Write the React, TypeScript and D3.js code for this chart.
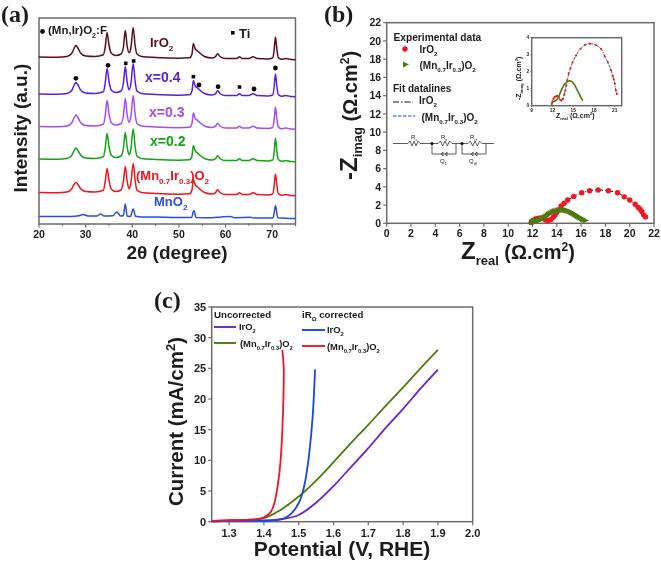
import React from "react";
import * as d3 from "d3";

const SANS = "'Liberation Sans', Arial, sans-serif";
const SERIF = "'Liberation Serif', serif";
const FRAME = "#6b6b6b";
const INK = "#1c1c1c";

// ---------- panel (a) XRD ----------
const xrdAngle = [20,24,26,27,27.5,27.9,28.4,29,30,32,33.8,34.2,34.6,35,35.5,36.5,37.6,38.1,38.5,38.9,39.3,39.7,40.2,40.6,41,42,45,50,52.3,52.8,53.1,53.5,54,54.6,55.5,57,57.8,58.3,58.8,60,62.4,63,63.6,65,65.9,66.8,69,70.1,70.4,70.7,71,71.3,72,72.8,74,75];
const xrdIrO2 = [167,166.8,167.6,170.5,175.5,178.5,175.5,170.5,168,167.5,169.2,177,191.5,179,170.8,168.5,170,177,193.5,178,171.2,176,196.5,179,170,167.5,166.5,165.8,166.2,170,180.5,175,173,170.5,167.5,166,167.2,170.3,167.5,165.4,165.6,167.2,165.4,165.4,167.3,165.4,165,166,173,187,175,166.5,164.8,165.4,164.5,164.3];
const xrdX04 = [130,129.8,130.6,133.5,138.5,141.5,138.5,133.5,131,130.5,132.2,141,155.5,143,133.8,131.5,133,141,157.5,142,134.2,140,160.5,143,133,130.5,129.5,128.8,129.2,133,143.5,138,136,133.5,130.5,129,130.2,133.3,130.5,128.4,128.6,130.2,128.4,128.4,130.3,128.4,128,129,136,150,138,129.5,127.8,128.4,127.5,127.3];
const xrdX03 = [97.5,97.3,98.1,101,106,109,106,101,98.5,98,99.7,108.5,123.5,110.5,101.3,99,100.5,108.5,125.5,109.5,101.7,107.5,128.5,110.5,100.5,98,97,96.3,96.7,100.5,111,105.5,103.5,101,98,96.5,97.7,100.8,98,95.9,96.1,97.7,95.9,95.9,97.8,95.9,95.5,96.5,103.5,117,105.5,97,95.3,95.9,95,94.8];
const xrdX02 = [65,64.8,65.6,68.5,73,76,73,68.5,66,65.5,67.2,76,90.5,78,68.8,66.5,68,76,91.5,77,69.2,75,95,78,68,65.5,64.5,63.8,64.2,68,78.5,73,71,68.5,65.5,64,65.2,68.3,65.5,63.4,63.6,65.2,63.4,63.4,65.3,63.4,63,64,71,86,73,64.5,62.8,63.4,62.5,62.3];
const xrdMix = [31.5,31.3,32.1,35,39.5,41.5,39,35,32.5,32,33.7,42.5,55.5,44,34.8,32.5,34,43,57.5,43,35.2,41,60.5,44,34,31.5,30.5,29.8,30.2,34,44.5,39,37,34.5,31.5,30,31.2,34.3,31.5,29.4,29.6,31.2,29.4,29.4,31.3,29.4,29,30,37,50,39,30.5,28.8,29.4,28.5,28.3];
const mnAngle = [20,27,28.5,29.5,30.5,32.4,33.2,34,35.8,36.7,37.5,38.1,38.5,38.9,39.6,40.2,40.7,42,45,50,52.7,53.2,53.7,57,59,61,62,65.3,66,70.2,70.7,71.2,75];
const mnO2 = [7.5,7.4,8.2,9.5,8,8,10,8,8.2,12,8,8.5,20,8,7.5,15,7.8,7,7,6.4,6.4,13.5,6.4,6.2,7,7.6,6.2,6.8,6,6,18.5,6.2,5.4];
const xrdTicks = [20,30,40,50,60,70];
const xrdMinor = [25,35,45,55,65,75];

const circleMarks = [[27.9,145.7],[34.8,158.7],[54.3,139],[58.4,137.3],[66.1,135],[70.7,156]];
const squareMarks = [[38.6,160.7],[40.3,163],[53.1,147.3],[63,137]];

// ---------- panel (b) EIS ----------
const irRe = [11.9,12,12.15,12.3,12.5,12.7,12.9,13.1,13.3,13.5,13.7,13.85,14,14.15,14.35,14.6,14.9,15.4,16.05,16.7,17.4,18.25,19,19.55,20,20.45,20.7,20.85,21,21.15,21.3];
const irIm = [0.1,0.25,0.4,0.5,0.55,0.58,0.5,0.35,0.3,0.4,0.65,0.9,1.2,1.5,1.9,2.2,2.55,2.95,3.35,3.57,3.65,3.57,3.35,2.9,2.55,2.1,1.75,1.55,1.3,0.9,0.7];
const mixRe = [11.95,12.05,12.15,12.25,12.35,12.45,12.55,12.65,12.75,12.85,12.95,13.05,13.15,13.25,13.35,13.45,13.55,13.65,13.75,13.85,13.95,14.05,14.15,14.25,14.35,14.45,14.55,14.65,14.75,14.85,14.95,15.05,15.15,15.25,15.35,15.45,15.55,15.65,15.75,15.85,15.95,16.05,16.15,16.25,16.4];
const mixIm = [0.15,0.2,0.24,0.26,0.28,0.3,0.32,0.36,0.42,0.5,0.58,0.68,0.78,0.88,0.98,1.06,1.13,1.2,1.26,1.31,1.35,1.39,1.42,1.44,1.46,1.47,1.47,1.45,1.43,1.4,1.36,1.31,1.25,1.18,1.1,1.02,0.94,0.86,0.78,0.7,0.62,0.54,0.46,0.38,0.3];
const eisTicks = [0,2,4,6,8,10,12,14,16,18,20,22];
const insetXTicks = [9,12,15,18,21];
const insetYTicks = [0,1,2,3,4];

// ---------- panel (c) polarisation ----------
const irV = [1.25,1.3,1.35,1.4,1.45,1.5,1.55,1.6,1.65,1.7,1.75,1.8,1.85,1.9];
const irJ = [0.05,0.15,0.15,0.2,0.4,1.1,3.1,5.8,8.9,12,15.3,18.4,21.7,24.8];
const mixV = [1.25,1.3,1.35,1.4,1.45,1.5,1.55,1.6,1.65,1.7,1.75,1.8,1.85,1.9];
const mixJ = [0.1,0.2,0.25,0.6,2,4.1,6.7,9.7,12.8,15.8,18.9,21.9,25,28];
const irCorrV = [1.25,1.3,1.35,1.4,1.44,1.46,1.48,1.5,1.51,1.52,1.53,1.54,1.547];
const irCorrJ = [0.05,0.12,0.15,0.15,0.3,0.6,1.4,3,4.5,7,11,17,24.8];
const mixCorrV = [1.25,1.3,1.35,1.38,1.4,1.42,1.43,1.44,1.448,1.453,1.456,1.457,1.453];
const mixCorrJ = [0.1,0.25,0.3,0.4,0.7,1.6,3,6,10,15,20,25,28];
const polXTicks = [1.3,1.4,1.5,1.6,1.7,1.8,1.9,2.0];
const polYTicks = [0,5,10,15,20,25,30,35];

const zip = (a: number[], b: number[]) => a.map((v, i) => [v, b[i]] as [number, number]);

function Sub({ children, size }: { children: string; size: number }) {
  return <tspan baselineShift={-size * 0.32} fontSize={size * 0.62}>{children}</tspan>;
}

function Sup({ children, size }: { children: string; size: number }) {
  return <tspan baselineShift={size * 0.36} fontSize={size * 0.62}>{children}</tspan>;
}

function T(p: any) {
  const { x, y, size, fill = INK, weight = "bold", family = SANS, anchor = "start", rotate, children } = p;
  return <text x={x} y={y} fontSize={size} fill={fill} fontWeight={weight} fontFamily={family} textAnchor={anchor}
    transform={rotate != null ? `rotate(${rotate} ${x} ${y})` : undefined}>{children}</text>;
}

function Frame({ x, y }: { x: any; y: any }) {
  const [x0, x1] = x.range(), [y0, y1] = y.range();
  return <rect x={x0} y={y1} width={x1 - x0} height={y0 - y1} fill="none" stroke={FRAME} strokeWidth={1.5} />;
}

function BottomAxis({ x, y, ticks, minor = [], size, fmt = String, len = 3.5, dy = 14 }: any) {
  const b = y.range()[0];
  return <g>
    {ticks.map((t: number) => <g key={t}>
      <line x1={x(t)} x2={x(t)} y1={b} y2={b + len} stroke={FRAME} strokeWidth={1.2} />
      <T x={x(t)} y={b + dy} size={size} anchor="middle">{fmt(t)}</T>
    </g>)}
    {minor.map((t: number) => <line key={t} x1={x(t)} x2={x(t)} y1={b} y2={b + len * 0.6} stroke={FRAME} strokeWidth={1} />)}
  </g>;
}

function LeftAxis({ x, y, ticks, size, len = 3.5, gap = 5.5 }: any) {
  const l = x.range()[0];
  return <g>
    {ticks.map((t: number) => <g key={t}>
      <line x1={l - len} x2={l} y1={y(t)} y2={y(t)} stroke={FRAME} strokeWidth={1.2} />
      <T x={l - gap} y={y(t) + size * 0.36} size={size} anchor="end">{String(t)}</T>
    </g>)}
  </g>;
}

function Resistor({ x, y, w }: { x: number; y: number; w: number }) {
  const pts = d3.range(0, 7).map(i => [x + (w * i) / 6, i === 0 || i === 6 ? y : y + (i % 2 ? -2.4 : 2.4)] as [number, number]);
  return <path d={d3.line()(pts) || ""} fill="none" stroke="#333" strokeWidth={0.8} />;
}

export default function App() {
  // (a)
  const ax = d3.scaleLinear().domain([20, 75]).range([39, 295.5]);
  const ay = d3.scaleLinear().domain([0, 206]).range([224, 18]);
  const aLine = d3.line<[number, number]>().x(d => ax(d[0])).y(d => ay(d[1])).curve(d3.curveMonotoneX);
  const xrdSeries: [number[], number[], string][] = [
    [xrdAngle, xrdIrO2, "#5a0f1c"],
    [xrdAngle, xrdX04, "#5a1ee0"],
    [xrdAngle, xrdX03, "#a94af0"],
    [xrdAngle, xrdX02, "#12a412"],
    [xrdAngle, xrdMix, "#f0141e"],
    [mnAngle, mnO2, "#2a50e0"],
  ];
  // (b)
  const bx = d3.scaleLinear().domain([0, 22]).range([386.7, 654]);
  const by = d3.scaleLinear().domain([0, 22]).range([223.3, 22.7]);
  const ix = d3.scaleLinear().domain([9, 22]).range([531.7, 621.7]);
  const iy = d3.scaleLinear().domain([0, 4]).range([105.7, 37.7]);
  const eisLine = (sx: any, sy: any) => d3.line<[number, number]>().x(d => sx(d[0])).y(d => sy(d[1])).curve(d3.curveCatmullRom);
  const ir = zip(irRe, irIm), mix = zip(mixRe, mixIm);
  const tri = (cx: number, cy: number, r: number) => `M${cx - r},${cy - r}L${cx + r},${cy}L${cx - r},${cy + r}Z`;
  // (c)
  const cx = d3.scaleLinear().domain([1.25, 2.0]).range([211.7, 472.7]);
  const cy = d3.scaleLinear().domain([0, 35]).range([521.7, 307]);
  const cLine = d3.line<[number, number]>().x(d => cx(d[0])).y(d => cy(d[1])).curve(d3.curveCatmullRom);
  const polSeries: [number[], number[], string][] = [
    [irV, irJ, "#6a22d0"],
    [mixV, mixJ, "#4f7a10"],
    [irCorrV, irCorrJ, "#1746e8"],
    [mixCorrV, mixCorrJ, "#f01428"],
  ];

  return (
    <svg width={661} height={562} style={{ position: "absolute", left: 0, top: 0 }}>
      <defs><filter id="soft" x="0" y="0" width="100%" height="100%"><feGaussianBlur stdDeviation="0.35" /></filter></defs>
      <rect width={661} height={562} fill="#fff" />
      <g filter="url(#soft)">
        {/* (a) */}
        <T x={1} y={22} size={24} family={SERIF}>(a)</T>
        <Frame x={ax} y={ay} />
        <BottomAxis x={ax} y={ay} ticks={xrdTicks} minor={xrdMinor} size={10.5} dy={13.5} />
        {xrdSeries.map(([a, v, c], i) => <path key={i} d={aLine(zip(a, v)) || ""} fill="none" stroke={c} strokeWidth={1.5} />)}
        {circleMarks.map(([a, v], i) => <circle key={i} cx={ax(a)} cy={ay(v)} r={2.4} fill="#111" />)}
        {squareMarks.map(([a, v], i) => <rect key={i} x={ax(a) - 1.8} y={ay(v) - 1.8} width={3.6} height={3.6} fill="#111" />)}
        <circle cx={42.5} cy={31.5} r={2.4} fill="#111" />
        <T x={48} y={34} size={11.5}>(Mn,Ir)O<Sub size={11.5}>2</Sub>:F</T>
        <rect x={231} y={31} width={3.6} height={3.6} fill="#111" />
        <T x={239} y={37.5} size={13}>Ti</T>
        <T x={150} y={46.5} size={13} fill="#5a0f1c" weight="bold">IrO<Sub size={13}>2</Sub></T>
        <T x={145} y={82} size={14} fill="#5a1ee0">x=0.4</T>
        <T x={149} y={116.5} size={14} fill="#a94af0">x=0.3</T>
        <T x={150} y={145.5} size={14} fill="#12a412">x=0.2</T>
        <T x={136} y={180} size={13} fill="#f0141e">(Mn<Sub size={13}>0.7</Sub>Ir<Sub size={13}>0.3</Sub>)O<Sub size={13}>2</Sub></T>
        <T x={154} y={205.5} size={13} fill="#2a50e0">MnO<Sub size={13}>2</Sub></T>
        <T x={27} y={192.5} size={19} rotate={-90}>Intensity (a.u.)</T>
        <T x={177} y={258.5} size={19} anchor="middle">2θ (degree)</T>

        {/* (b) */}
        <T x={324} y={22} size={24} family={SERIF}>(b)</T>
        <Frame x={bx} y={by} />
        <BottomAxis x={bx} y={by} ticks={eisTicks} size={10.5} dy={13.5} />
        <LeftAxis x={bx} y={by} ticks={eisTicks} size={10.5} />
        <path d={eisLine(bx, by)(ir) || ""} fill="none" stroke="#111" strokeWidth={1} strokeDasharray="5 2 1 2" />
        {ir.map(([a, v], i) => <circle key={i} cx={bx(a)} cy={by(v)} r={2.7} fill="#f01420" />)}
        {mix.map(([a, v], i) => <path key={i} d={tri(bx(a), by(v), 3)} fill="#4f7a10" />)}

        <T x={393.5} y={41} size={10.2}>Experimental data</T>
        <circle cx={405} cy={49} r={2.7} fill="#f01420" />
        <T x={419.5} y={53} size={10}>IrO<Sub size={10}>2</Sub></T>
        <path d={tri(406, 64.5, 3)} fill="#4f7a10" />
        <T x={419.5} y={68.5} size={10}>(Mn<Sub size={10}>0.7</Sub>Ir<Sub size={10}>0.3</Sub>)O<Sub size={10}>2</Sub></T>
        <T x={393} y={92} size={10}>Fit datalines</T>
        <line x1={393} x2={413} y1={102} y2={102} stroke="#111" strokeWidth={1.1} strokeDasharray="6 2 1.5 2" />
        <T x={419} y={104} size={10}>IrO<Sub size={10}>2</Sub></T>
        <line x1={393} x2={415} y1={116} y2={116} stroke="#1746e8" strokeWidth={1.1} strokeDasharray="3.5 1.5" />
        <T x={421.5} y={121} size={10}>(Mn<Sub size={10}>0.7</Sub>Ir<Sub size={10}>0.3</Sub>)O<Sub size={10}>2</Sub></T>

        {/* circuit */}
        <g fill="none" stroke="#333" strokeWidth={0.8}>
          <path d="M393,143.5H408M420,143.5H438M452,143.5H468M482,143.5H494" />
          <path d="M432,143.5V154H456V143.5M462,143.5V154H486V143.5" />
          <path d="M441,154l2,-2l0,4zM445,154l2,-2l0,4z" strokeWidth={0.7} />
          <path d="M471,154l2,-2l0,4zM475,154l2,-2l0,4z" strokeWidth={0.7} />
        </g>
        <Resistor x={408} y={143.5} w={12} />
        <Resistor x={438} y={143.5} w={14} />
        <Resistor x={468} y={143.5} w={14} />
        <circle cx={432} cy={143.5} r={1.5} fill="#111" />
        <circle cx={462} cy={143.5} r={1.5} fill="#111" />
        <T x={411} y={139} size={6} weight="normal">R<Sub size={6}>s</Sub></T>
        <T x={441} y={139} size={6} weight="normal">R<Sub size={6}>e</Sub></T>
        <T x={470} y={139} size={6} weight="normal">R<Sub size={6}>ct</Sub></T>
        <T x={440} y={163} size={6} weight="normal">Q<Sub size={6}>1</Sub></T>
        <T x={469} y={163} size={6} weight="normal">Q<Sub size={6}>dl</Sub></T>

        {/* inset */}
        <Frame x={ix} y={iy} />
        {insetXTicks.map(t => <g key={t}>
          <line x1={ix(t)} x2={ix(t)} y1={iy(0)} y2={iy(0) + 1.5} stroke={FRAME} strokeWidth={0.7} />
          <T x={ix(t)} y={iy(0) + 6.5} size={4.8} anchor="middle">{String(t)}</T>
        </g>)}
        {insetYTicks.map(t => <g key={t}>
          <line x1={ix(9) - 1.5} x2={ix(9)} y1={iy(t)} y2={iy(t)} stroke={FRAME} strokeWidth={0.7} />
          <T x={ix(9) - 2.5} y={iy(t) + 1.7} size={4.8} anchor="end">{String(t)}</T>
        </g>)}
        <path d={eisLine(ix, iy)(ir) || ""} fill="none" stroke="#111" strokeWidth={0.7} strokeDasharray="3 1 1 1" />
        {ir.map(([a, v], i) => <circle key={i} cx={ix(a)} cy={iy(v)} r={1.1} fill="#f01420" />)}
        <path d={eisLine(ix, iy)(mix) || ""} fill="none" stroke="#4f7a10" strokeWidth={1.6} />
        <T x={556} y={118} size={7}>Z<Sub size={7}>real</Sub> (Ω.cm<Sup size={7}>2</Sup>)</T>
        <T x={521} y={100} size={7} rotate={-90}>-Z<Sub size={7}>imag</Sub> (Ω.cm<Sup size={7}>2</Sup>)</T>

        <T x={461} y={259} size={20}><tspan fontSize={24}>Z</tspan><tspan baselineShift={-6} fontSize={13}>real</tspan> (Ω.cm<tspan baselineShift={8} fontSize={12}>2</tspan>)</T>
        <T x={357} y={180} size={20} rotate={-90}><tspan fontSize={24}>-Z</tspan><tspan baselineShift={-5} fontSize={13}>imag</tspan> (Ω.cm<tspan baselineShift={8} fontSize={12}>2</tspan>)</T>

        {/* (c) */}
        <T x={154} y={308} size={24} family={SERIF}>(c)</T>
        <Frame x={cx} y={cy} />
        <BottomAxis x={cx} y={cy} ticks={polXTicks} size={11} dy={15} fmt={(t: number) => t.toFixed(1)} />
        <LeftAxis x={cx} y={cy} ticks={polYTicks} size={11} />
        {polSeries.map(([v, j, c], i) => <path key={i} d={cLine(zip(v, j)) || ""} fill="none" stroke={c} strokeWidth={1.8} />)}
        <T x={214} y={318} size={9.7}>Uncorrected</T>
        <T x={302} y={318} size={9.7}>iR<Sub size={9.7}>Ω</Sub> corrected</T>
        <line x1={214} x2={236} y1={327} y2={327} stroke="#6a22d0" strokeWidth={1.9} />
        <T x={239} y={330} size={9.4}>IrO<Sub size={9.4}>2</Sub></T>
        <line x1={214} x2={236} y1={343} y2={343} stroke="#4f7a10" strokeWidth={1.9} />
        <T x={240} y={347} size={9.4}>(Mn<Sub size={9.4}>0.7</Sub>Ir<Sub size={9.4}>0.3</Sub>)O<Sub size={9.4}>2</Sub></T>
        <line x1={302} x2={325} y1={330} y2={330} stroke="#1746e8" strokeWidth={1.9} />
        <T x={327} y={333} size={9.4}>IrO<Sub size={9.4}>2</Sub></T>
        <line x1={302} x2={325} y1={346} y2={346} stroke="#f01428" strokeWidth={1.9} />
        <T x={327} y={350} size={9.4}>(Mn<Sub size={9.4}>0.7</Sub>Ir<Sub size={9.4}>0.3</Sub>)O<Sub size={9.4}>2</Sub></T>
        <T x={183} y={506} size={20.5} rotate={-90}>Current (mA/cm<tspan baselineShift={8} fontSize={13}>2</tspan>)</T>
        <T x={342} y={556} size={21} anchor="middle">Potential (V, RHE)</T>
      </g>
    </svg>
  );
}
